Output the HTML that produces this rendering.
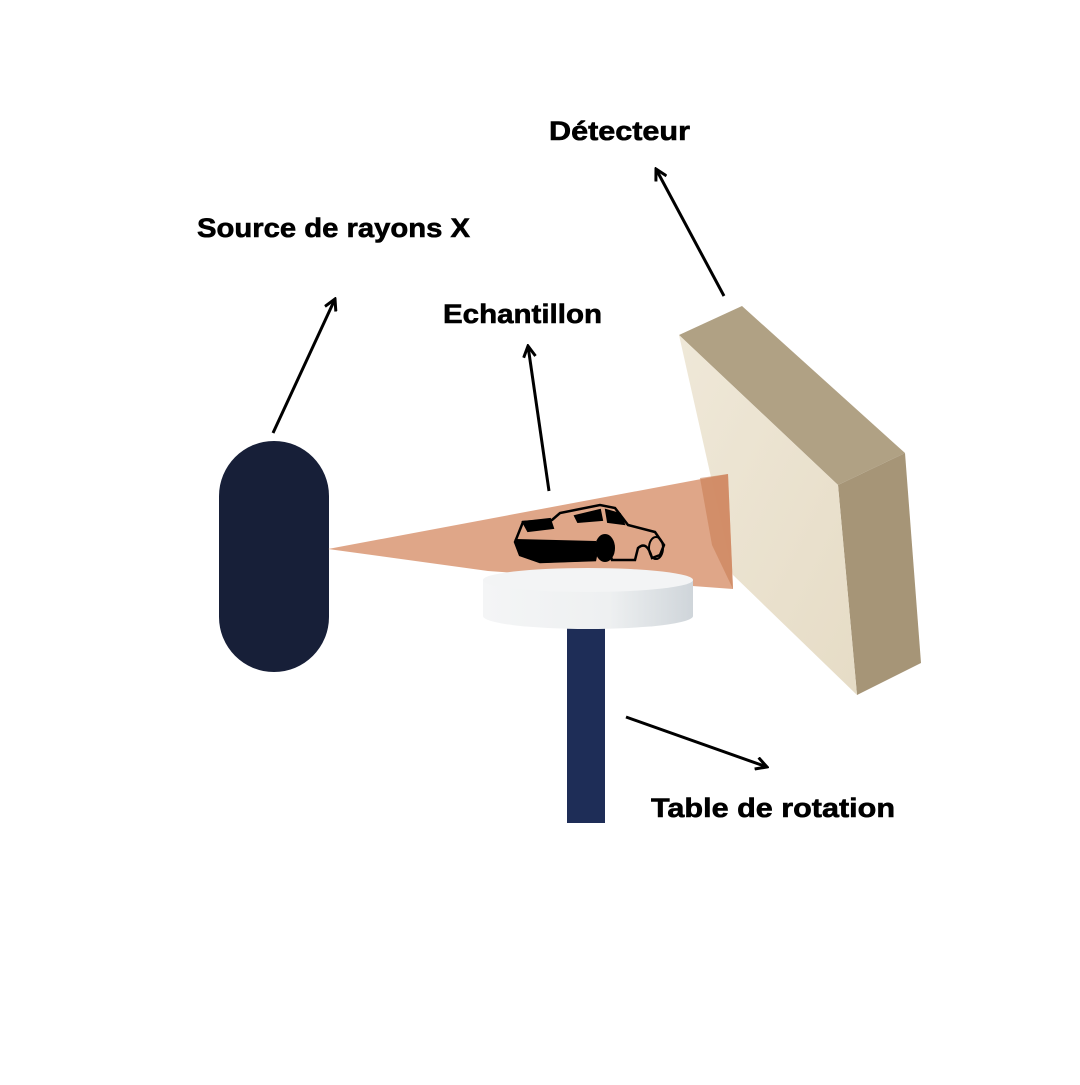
<!DOCTYPE html>
<html><head><meta charset="utf-8"><style>
body{margin:0;background:#fff;width:1080px;height:1080px;overflow:hidden}
.t{font-family:"Liberation Sans",sans-serif;font-weight:bold;font-size:27px;fill:#000;stroke:#000;stroke-width:0.6}
</style></head><body>
<svg width="1080" height="1080" viewBox="0 0 1080 1080" xmlns="http://www.w3.org/2000/svg">
<defs>
<linearGradient id="cyl" x1="0" x2="1"><stop offset="0" stop-color="#f4f5f6"/><stop offset="0.6" stop-color="#eef0f1"/><stop offset="1" stop-color="#cfd5da"/></linearGradient>
<linearGradient id="front" x1="0" y1="0" x2="1" y2="1"><stop offset="0" stop-color="#efe8d8"/><stop offset="1" stop-color="#e6dcc6"/></linearGradient>
<marker id="ah" markerWidth="14" markerHeight="14" refX="12" refY="7" orient="auto" markerUnits="userSpaceOnUse"><path d="M1,1 L12,7 L1,13" fill="none" stroke="#000" stroke-width="3"/></marker>
</defs>
<!-- detector -->
<polygon points="679,335 742,306 905,453 838,485" fill="#b0a184"/>
<polygon points="838,485 905,453 921,663 857,695" fill="#a69577"/>
<polygon points="679,335 838,485 857,695 733,575" fill="url(#front)"/>
<!-- source -->
<rect x="219" y="441" width="110" height="231" rx="55" fill="#171f38"/>
<!-- pole -->
<rect x="567" y="620" width="38" height="203" fill="#1e2d57"/>
<!-- beam -->
<polygon points="328,549 728,474 733,589 488,571" fill="#dc9e7e" fill-opacity="0.92"/>
<polygon points="700,478 728,474 733,589 712,545" fill="#c97f55" fill-opacity="0.6"/>
<!-- platform -->
<path d="M483,580 L483,616 A105,13 0 0 0 693,616 L693,580 Z" fill="url(#cyl)"/>
<ellipse cx="588" cy="580" rx="105" ry="12" fill="#f3f4f5"/>
<!-- car -->
<g fill="#000" stroke="#000" stroke-width="2">
<path d="M523,522 L552,520 L560,513 L600,505 L615,508 L628,525 L655,532 L664,545 L660,555 L652,558 Q647,540 638,548 L635,560 L612,560 Q605,535 598,545 L595,560 L540,562 L520,555 L515,542 Z" fill="none" stroke-width="2.5"/>
<path d="M523,522 L550,519 L553,528 L528,531 Z"/>
<path d="M516,540 L595,542 L594,560 L540,562 L520,555 Z"/>
<path d="M575,516 L600,510 L602,520 L578,522 Z"/>
<path d="M606,510 L620,514 L624,524 L608,522 Z"/>
<ellipse cx="605" cy="548" rx="9" ry="13"/>
<ellipse cx="656" cy="548" rx="7" ry="11" fill="none"/>
</g>
<!-- arrows -->
<g stroke="#000" stroke-width="3" fill="none" marker-end="url(#ah)">
<line x1="273" y1="433" x2="335" y2="299"/>
<line x1="549" y1="491" x2="528" y2="346"/>
<line x1="724" y1="296" x2="656" y2="169"/>
<line x1="626" y1="717" x2="767" y2="767"/>
</g>
<text class="t" x="549" y="140" textLength="141" lengthAdjust="spacingAndGlyphs">Détecteur</text>
<text class="t" x="197" y="237" textLength="273" lengthAdjust="spacingAndGlyphs">Source de rayons X</text>
<text class="t" x="443" y="323" textLength="159" lengthAdjust="spacingAndGlyphs">Echantillon</text>
<text class="t" x="651" y="817" textLength="244" lengthAdjust="spacingAndGlyphs">Table de rotation</text>
</svg>
</body></html>
